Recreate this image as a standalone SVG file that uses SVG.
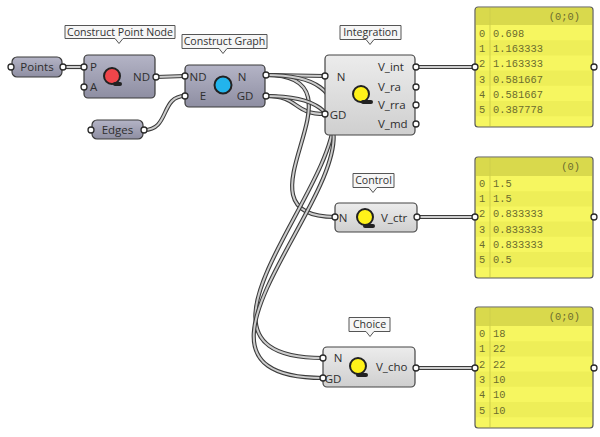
<svg xmlns="http://www.w3.org/2000/svg" width="600" height="437" viewBox="0 0 600 437">
<defs>
<linearGradient id="gPurple" x1="0" y1="0" x2="0" y2="1">
<stop offset="0" stop-color="#b4b4c6"/><stop offset="1" stop-color="#8e8ea2"/>
</linearGradient>
<linearGradient id="gGray" x1="0" y1="0" x2="0" y2="1">
<stop offset="0" stop-color="#ececec"/><stop offset="1" stop-color="#cfcfcf"/>
</linearGradient>
<style>
.wo{fill:none;stroke:#3c3c3c;stroke-width:4.2}
.wi{fill:none;stroke:#cdcdcd;stroke-width:2}
.cp{fill:url(#gPurple);stroke:#3a3a3a;stroke-width:1.2}
.cg{fill:url(#gGray);stroke:#444;stroke-width:1.2}
.port{fill:#fff;stroke:#2a2a2a;stroke-width:1.3}
.lbl{font-family:"Open Sans","Liberation Sans",sans-serif;font-size:11.5px;fill:#2e2e2e}
.tip{fill:#f6f6f6;stroke:#555;stroke-width:1}
.tt{font-family:"Open Sans","Liberation Sans",sans-serif;font-size:10.6px;fill:#333;text-anchor:middle}
.ico{stroke:#222;stroke-width:2}
.tag{fill:#222}
.pan{fill:#f6f660;stroke:#5a5a5a;stroke-width:1.2}
.hdr{fill:#d9d94c}
.alt{fill:#eeee58}
.sep{stroke:#cfcf4a;stroke-width:1}
.mono{font-family:"Liberation Mono","DejaVu Sans Mono",monospace;font-size:10.4px;fill:#6c6c2e}
</style>
</defs>

<g id="connectors">
<path class="wo" d="M63,67 L84,67"/><path class="wi" d="M63,67 L84,67"/>
<path class="wo" d="M156,77 L185,76"/><path class="wi" d="M156,77 L185,76"/>
<path class="wo" d="M144,130 C170,130 160,96 185,96"/><path class="wi" d="M144,130 C170,130 160,96 185,96"/>
<path class="wo" d="M266,75 C296,75 296,76 325,76"/><path class="wi" d="M266,75 C296,75 296,76 325,76"/>
<path class="wo" d="M266,96 C300,96 292,114 325,114"/><path class="wi" d="M266,96 C300,96 292,114 325,114"/>
<path class="wo" d="M266,75 C377,75 224,217 335,217"/><path class="wi" d="M266,75 C377,75 224,217 335,217"/>
<path class="wo" d="M266,75 C476,75 114,358 323,358"/><path class="wi" d="M266,75 C476,75 114,358 323,358"/>
<path class="wo" d="M266,96 C476,96 110,378 323,378"/><path class="wi" d="M266,96 C476,96 110,378 323,378"/>
<path class="wo" d="M416,67 L475,67"/><path class="wi" d="M416,67 L475,67"/>
<path class="wo" d="M417,217 L475,217"/><path class="wi" d="M417,217 L475,217"/>
<path class="wo" d="M416,368 L475,368"/><path class="wi" d="M416,368 L475,368"/>
</g>

<g id="points">
<rect class="cp" x="12" y="57" width="50" height="20" rx="5"/>
<text class="lbl" x="37" y="71" text-anchor="middle">Points</text>
<circle class="port" cx="11" cy="67" r="3"/><circle class="port" cx="63" cy="67" r="3"/>
</g>

<g id="edges">
<rect class="cp" x="92" y="120" width="51" height="19" rx="5"/>
<text class="lbl" x="117.5" y="134" text-anchor="middle">Edges</text>
<circle class="port" cx="91" cy="130" r="3"/><circle class="port" cx="144" cy="130" r="3"/>
</g>

<g id="construct-point-node">
<path class="tip" d="M65,25.5 H175 V38.5 H123 L119,43.5 L115,38.5 H65 Z"/>
<text class="tt" x="120" y="35.5">Construct Point Node</text>
<rect class="cp" x="84" y="55" width="71" height="43" rx="4"/>
<circle class="port" cx="84" cy="67" r="3"/><circle class="port" cx="84" cy="87" r="3"/><circle class="port" cx="156" cy="77" r="3"/>
<text class="lbl" x="90" y="71">P</text>
<text class="lbl" x="90" y="91">A</text>
<text class="lbl" x="150" y="81" text-anchor="end">ND</text>
<circle class="ico" cx="112" cy="76" r="8" fill="#f0454a"/>
<rect class="tag" x="113" y="82" width="9" height="4" rx="2"/>
</g>

<g id="construct-graph">
<path class="tip" d="M182,34.5 H267 V48.5 H227 L223,53.5 L219,48.5 H182 Z"/>
<text class="tt" x="224.5" y="45">Construct Graph</text>
<rect class="cp" x="185" y="65" width="80" height="42" rx="4"/>
<circle class="port" cx="185" cy="76" r="3"/><circle class="port" cx="185" cy="96" r="3"/>
<circle class="port" cx="266" cy="75" r="3"/><circle class="port" cx="266" cy="96" r="3"/>
<text class="lbl" x="198" y="81" text-anchor="middle">ND</text>
<text class="lbl" x="203" y="100" text-anchor="middle">E</text>
<text class="lbl" x="242" y="81" text-anchor="middle">N</text>
<text class="lbl" x="245" y="100" text-anchor="middle">GD</text>
<circle class="ico" cx="223" cy="85" r="8.5" fill="#22b4ec"/>
</g>

<g id="integration">
<path class="tip" d="M340,25.5 H401 V39.5 H374 L370,44.5 L366,39.5 H340 Z"/>
<text class="tt" x="370.5" y="36">Integration</text>
<rect class="cg" x="325" y="55" width="90" height="80" rx="4"/>
<circle class="port" cx="325" cy="76" r="3"/><circle class="port" cx="325" cy="114" r="3"/>
<circle class="port" cx="416" cy="67" r="3"/><circle class="port" cx="416" cy="87" r="3"/>
<circle class="port" cx="416" cy="105" r="3"/><circle class="port" cx="416" cy="124" r="3"/>
<text class="lbl" x="341" y="81" text-anchor="middle">N</text>
<text class="lbl" x="338" y="119" text-anchor="middle">GD</text>
<text class="lbl" x="378" y="71">V_int</text>
<text class="lbl" x="378" y="91">V_ra</text>
<text class="lbl" x="378" y="109">V_rra</text>
<text class="lbl" x="378" y="128">V_md</text>
<circle class="ico" cx="361" cy="94" r="8" fill="#fff21a"/>
<rect class="tag" x="361" y="100" width="12" height="4" rx="2"/>
</g>

<g id="control">
<path class="tip" d="M353,173.5 H394 V187.5 H377 L373,192.5 L369,187.5 H353 Z"/>
<text class="tt" x="373.5" y="184">Control</text>
<rect class="cg" x="335" y="203" width="82" height="29" rx="4"/>
<circle class="port" cx="335" cy="217" r="3"/><circle class="port" cx="417" cy="217" r="3"/>
<text class="lbl" x="343" y="222" text-anchor="middle">N</text>
<text class="lbl" x="381" y="222">V_ctr</text>
<circle class="ico" cx="365" cy="217" r="8" fill="#fff21a"/>
<rect class="tag" x="363" y="224" width="12" height="4" rx="2"/>
</g>

<g id="choice">
<path class="tip" d="M349,317.5 H390 V331.5 H374 L370,336.5 L366,331.5 H349 Z"/>
<text class="tt" x="369.5" y="328">Choice</text>
<rect class="cg" x="323" y="347" width="92" height="40" rx="4"/>
<circle class="port" cx="323" cy="358" r="3"/><circle class="port" cx="323" cy="378" r="3"/><circle class="port" cx="416" cy="368" r="3"/>
<text class="lbl" x="338" y="362" text-anchor="middle">N</text>
<text class="lbl" x="333" y="383" text-anchor="middle">GD</text>
<text class="lbl" x="376" y="371">V_cho</text>
<circle class="ico" cx="358" cy="366" r="8" fill="#fff21a"/>
<rect class="tag" x="356" y="373" width="12" height="4" rx="2"/>
</g>

<g id="panel-integration">
<rect class="pan" x="475" y="7" width="118" height="120" rx="3"/>
<path class="hdr" d="M476,8 H592 V25 H476 Z"/>
<rect class="alt" x="476" y="40.2" width="116" height="15.2"/>
<rect class="alt" x="476" y="70.6" width="116" height="15.2"/>
<rect class="alt" x="476" y="101" width="116" height="15.2"/>
<line class="sep" x1="490" y1="8" x2="490" y2="126"/>
<text class="mono" x="580" y="20" text-anchor="end">(0;0)</text>
<text class="mono" x="479" y="37">0</text><text class="mono" x="493" y="37">0.698</text>
<text class="mono" x="479" y="52">1</text><text class="mono" x="493" y="52">1.163333</text>
<text class="mono" x="479" y="67">2</text><text class="mono" x="493" y="67">1.163333</text>
<text class="mono" x="479" y="83">3</text><text class="mono" x="493" y="83">0.581667</text>
<text class="mono" x="479" y="98">4</text><text class="mono" x="493" y="98">0.581667</text>
<text class="mono" x="479" y="113">5</text><text class="mono" x="493" y="113">0.387778</text>
<circle class="port" cx="475" cy="67" r="3"/><circle class="port" cx="594" cy="67" r="3"/>
</g>

<g id="panel-control">
<rect class="pan" x="475" y="157" width="118" height="121" rx="3"/>
<path class="hdr" d="M476,158 H592 V176 H476 Z"/>
<rect class="alt" x="476" y="191.2" width="116" height="15.2"/>
<rect class="alt" x="476" y="221.6" width="116" height="15.2"/>
<rect class="alt" x="476" y="252" width="116" height="15.2"/>
<line class="sep" x1="490" y1="158" x2="490" y2="277"/>
<text class="mono" x="580" y="170" text-anchor="end">(0)</text>
<text class="mono" x="479" y="187">0</text><text class="mono" x="493" y="187">1.5</text>
<text class="mono" x="479" y="202">1</text><text class="mono" x="493" y="202">1.5</text>
<text class="mono" x="479" y="217">2</text><text class="mono" x="493" y="217">0.833333</text>
<text class="mono" x="479" y="233">3</text><text class="mono" x="493" y="233">0.833333</text>
<text class="mono" x="479" y="248">4</text><text class="mono" x="493" y="248">0.833333</text>
<text class="mono" x="479" y="263">5</text><text class="mono" x="493" y="263">0.5</text>
<circle class="port" cx="475" cy="217" r="3"/><circle class="port" cx="594" cy="217" r="3"/>
</g>

<g id="panel-choice">
<rect class="pan" x="475" y="307" width="118" height="121" rx="3"/>
<path class="hdr" d="M476,308 H592 V326 H476 Z"/>
<rect class="alt" x="476" y="341.2" width="116" height="15.2"/>
<rect class="alt" x="476" y="371.6" width="116" height="15.2"/>
<rect class="alt" x="476" y="402" width="116" height="15.2"/>
<line class="sep" x1="490" y1="308" x2="490" y2="427"/>
<text class="mono" x="580" y="320" text-anchor="end">(0;0)</text>
<text class="mono" x="479" y="337">0</text><text class="mono" x="493" y="337">18</text>
<text class="mono" x="479" y="352">1</text><text class="mono" x="493" y="352">22</text>
<text class="mono" x="479" y="368">2</text><text class="mono" x="493" y="368">22</text>
<text class="mono" x="479" y="383">3</text><text class="mono" x="493" y="383">10</text>
<text class="mono" x="479" y="398">4</text><text class="mono" x="493" y="398">10</text>
<text class="mono" x="479" y="414">5</text><text class="mono" x="493" y="414">10</text>
<circle class="port" cx="475" cy="368" r="3"/><circle class="port" cx="594" cy="368" r="3"/>
</g>
</svg>
